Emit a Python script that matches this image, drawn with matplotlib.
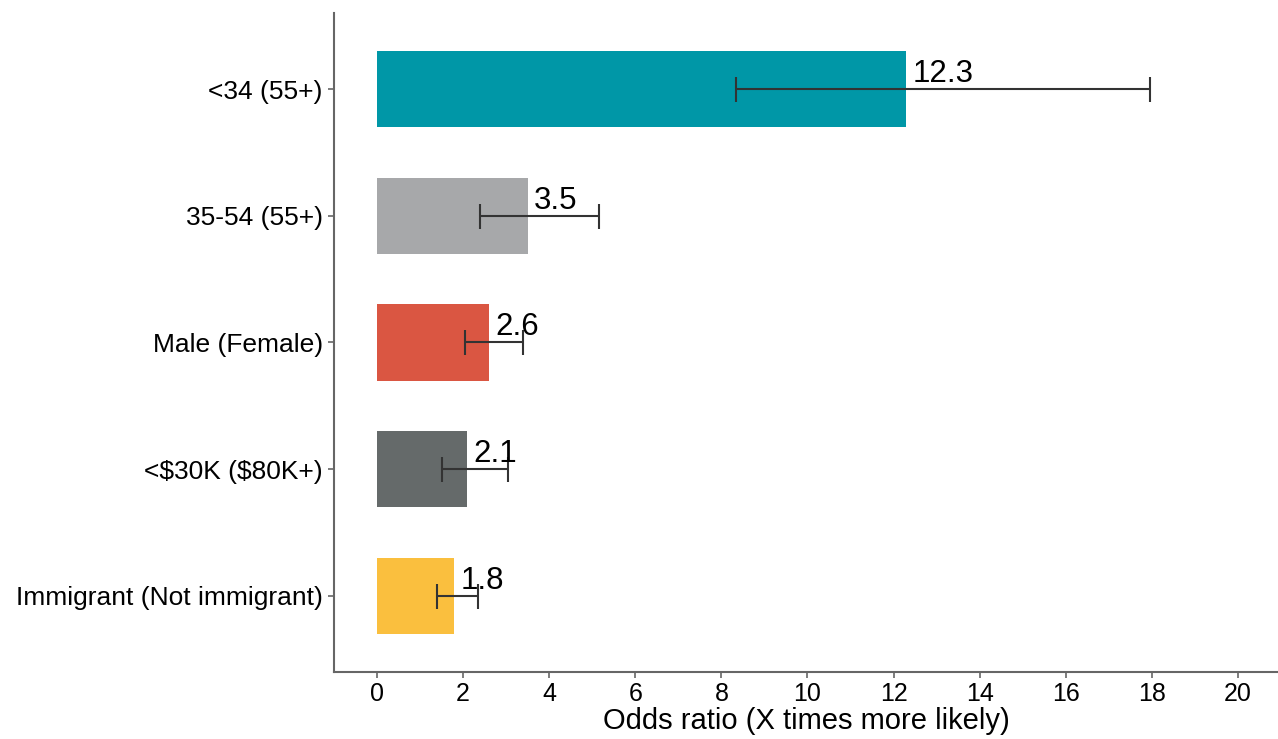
import matplotlib.pyplot as plt

categories = ['<34 (55+)', '35-54 (55+)', 'Male (Female)', r'<\$30K (\$80K+)', 'Immigrant (Not immigrant)']
oddsRatios = [12.3, 3.5, 2.6, 2.1, 1.8]
lowerCI = [8.35, 2.4, 2.05, 1.5, 1.4]
upperCI = [17.95, 5.15, 3.4, 3.05, 2.35]
barColors = ['#0097A7', '#A7A8AA', '#DA5642', '#656A6A', '#FABF3E']

plt.rcParams['font.family'] = ['Liberation Sans', 'DejaVu Sans']

fig = plt.figure(figsize=(12.78, 7.39), dpi=100)
ax = fig.add_axes([0.2613, 0.0907, 0.7387, 0.8917])

positions = list(range(len(categories)))
errLow = [v - lo for v, lo in zip(oddsRatios, lowerCI)]
errHigh = [hi - v for v, hi in zip(oddsRatios, upperCI)]

ax.barh(positions, oddsRatios, height=0.6, color=barColors, zorder=2)
ax.errorbar(oddsRatios, positions, xerr=[errLow, errHigh], fmt='none',
            ecolor='#333333', elinewidth=1.5, capsize=9, capthick=1.5, zorder=3)

for p, v in zip(positions, oddsRatios):
    ax.text(v + 0.15, p, str(v), ha='left', va='bottom', fontsize=22.5, color='black', zorder=4)

ax.set_yticks(positions)
ax.set_yticklabels(categories, fontsize=19)
ax.set_xticks(range(0, 21, 2))
ax.tick_params(axis='x', labelsize=18, length=4, color='#666666', width=1.2, pad=3)
ax.tick_params(axis='y', length=4, color='#666666', width=1.2, pad=4)
ax.set_xlim(-1, 20.93)
ax.set_ylim(4.6, -0.6)
ax.set_xlabel('Odds ratio (X times more likely)', fontsize=21, labelpad=1)

for side in ['top', 'right']:
    ax.spines[side].set_visible(False)
for side in ['left', 'bottom']:
    ax.spines[side].set_color('#666666')
    ax.spines[side].set_linewidth(1.5)

fig.savefig('out.png', dpi=100)
